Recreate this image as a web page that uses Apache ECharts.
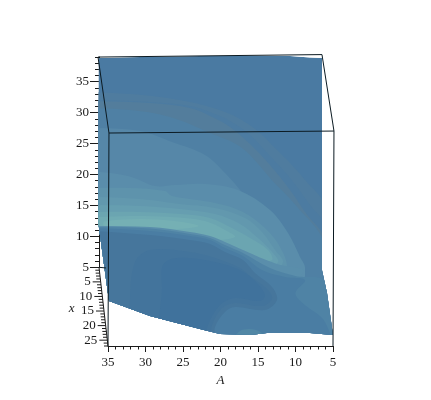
<!DOCTYPE html>
<html><head><meta charset="utf-8">
<style>html,body{margin:0;padding:0;background:#fff}#c{width:431px;height:400px}</style>
<script src="https://cdn.jsdelivr.net/npm/echarts@6/dist/echarts.min.js"></script>
</head><body><div id="c"></div>
<script>
// Axis ticks
const zMajor=[5,10,15,20,25,30,35];
const aMajor=[5,10,15,20,25,30,35];
const depthMajor=[5,10,15,20,25];
const depthAll=[1,2,3,4,5,6,7,8,9,10,11,12,13,14,15,16,17,18,19,20,21,22,23,24,25,26,27];
// Surface outline in (A, z)
const surface=[[36.27,38.83],[30.73,38.99],[22.73,39.15],[10.73,39.15],[8.07,38.91],[6.47,38.83],[6.47,4.56],[5.8,0.84],[5,-5.94],[8.07,-5.62],[13.8,-5.62],[16.07,-5.94],[20.07,-5.78],[22.73,-4.97],[29.4,-2.87],[34.87,-0.45],[36.27,12]];
// Contour regions in (A, z), back to front
const g1=[[42,33.5],[38,33.4],[32.07,33.01],[28.07,32.53],[24.07,31.72],[21.4,30.91],[18.73,29.78],[16.73,28.48],[14.73,26.71],[12.73,24.28],[10.73,21.86],[8.73,19.11],[6.07,14.75],[4,-12],[42,-12]];
const g2=[[42,32.2],[38,32.1],[29.4,31.72],[24.07,31.07],[21.4,30.1],[18.73,28.65],[16.07,26.38],[13.4,22.99],[10.73,19.43],[8.07,15.07],[6.07,11.68],[4,-12],[42,-12]];
const g3=[[42,32],[38,31.9],[29.4,31.55],[24.07,30.75],[21.4,29.46],[18.73,27.68],[16.07,24.93],[13.4,21.53],[10.73,17.49],[8.73,13.94],[6.07,9.41],[4,-12],[42,-12]];
const l5=[[42,30.9],[38,30.8],[32.07,30.42],[26.73,29.29],[21.4,26.71],[17.13,24.28],[12.93,18.79],[10,15.07],[6.07,8.6],[4,-12],[42,-12]];
const l6=[[42,27.7],[38,27.6],[30.73,27.03],[26.47,25.25],[22.07,23.15],[19.4,20.24],[17.4,17.49],[15,13.45],[12.73,9.41],[10.73,5.86],[9.4,2.95],[12,-2],[42,-2]];
const r0=[[42,20.8],[38,20.6],[32.33,19.76],[28.73,18.14],[26.07,18.3],[22.07,18.46],[17.67,17.49],[13.4,14.26],[11,10.54],[9.4,6.66],[8.73,4.89],[9.4,2.14],[42,2.14]];
const r1=[[42,17.9],[38,17.85],[32.07,17.82],[27.4,17.33],[26.47,16.52],[20.73,15.39],[17,13.94],[13.8,11.03],[12.07,8.28],[11.13,5.05],[12.07,2.14],[42,2.14]];
const r2=[[42,16.6],[38,16.45],[30.73,16.04],[25.4,15.23],[20.73,14.58],[16.73,12.97],[14.47,10.71],[12.73,7.8],[11.67,5.86],[13.4,3.76],[42,3.76]];
const r3=[[42,15.15],[38,15.1],[30.73,14.91],[25.4,14.42],[20.73,13.61],[17.4,12],[15,9.74],[13.13,7.47],[12.33,5.86],[14.47,4.24],[42,4.24]];
const r4=[[42,13.94],[38,13.94],[30.73,13.94],[25.4,13.61],[21.4,12.97],[18.47,11.35],[16.07,9.74],[13.67,7.8],[13.13,6.18],[15.4,5.86],[42,5.86]];
const r5=[[42,13],[38,13.05],[32.07,13.29],[26.73,13.13],[22.07,12.48],[19.4,11.03],[18.07,9.9],[21.4,9.41],[30,10.5],[42,10.71]];
const r6=[[35.5,12.4],[30.73,12.81],[26.07,12.48],[22.93,11.68],[26.07,11.19],[30.73,11.51],[35.5,11.68]];
const d1=[[42,11.72],[38,11.7],[29.4,11.51],[24.07,10.71],[21.4,10.06],[19.4,9.09],[17,7.8],[12.47,5.53],[9,4.56],[10,3.2],[42,1.33]];
const d2=[[42,11.55],[38,11.53],[29.4,11.27],[24.07,10.38],[21.4,9.74],[19.4,8.6],[17,7.31],[13.4,4.89],[10,3.59],[6.07,2.62],[4,-9],[42,-9]];
const d3=[[42,11.4],[38,11.37],[29.4,10.87],[24.07,10.06],[21.4,9.41],[19.4,8.12],[17,6.83],[14.47,4.56],[11.4,3.43],[8.73,2.95],[10,0.85],[9.07,-0.77],[6.07,-3.84],[5.5,-9],[42,-9]];
const d4=[[42,11],[38,10.95],[29.4,10.22],[24.07,9.41],[21.4,8.77],[19.4,7.47],[17,6.18],[15.4,4.08],[13.13,1.82],[12.47,-0.29],[14.07,-1.9],[18.07,-1.42],[19.4,-2.22],[20.73,-4.64],[21,-7.56],[42,-7.56]];
const d4a=[[32.07,-7.56],[32.07,-0.29],[31.4,5.86],[29.4,7.8],[24.07,7.47],[20.73,6.5],[17.4,4.89],[16.07,3.59],[13.67,1.33],[13.13,-0.12],[14.47,-1.25],[18.07,-0.77],[19.8,-1.58],[21.13,-4.33],[21.67,-7.56]];
const d5=[[27.8,-7.56],[27.8,1.65],[27.67,5.37],[25.8,6.5],[20.73,5.86],[17.4,4.56],[15.4,2.79],[14.07,0.52],[14.73,-0.45],[18.07,0.04],[20.07,-1.09],[21.67,-4.33],[22.33,-7.56]];
const bump=[[18.07,-6.43],[17.4,-5.3],[16.33,-4.97],[15.27,-5.13],[14.33,-5.78],[14.07,-6.75]];
const regions=[surface,g1,g2,g3,l5,l6,r0,r1,r2,r3,r4,r5,r6,d1,d2,d3,d4,d4a,d5,bump];
const regionColors=['#4a7aa2','#4f7c9f','#4c7ba1','#537d9c','#4f80a4','#5687a8','#5a8dab','#5e93ac','#6298ae','#669eb0','#6ba5b1','#70abb3','#75b0b4','#5a8eab','#4f83a5','#4a7da3','#46769c','#43749c','#40729c','#5187a5'];
// Box edges in (A, z)
const boxEdges=[
 [[36.33,38.99],[6.47,39.39]],
 [[6.47,39.39],[4.87,27.03]],
 [[36.33,38.99],[34.87,26.71]],
 [[34.87,26.71],[4.87,27.03]],
 [[34.87,26.71],[35,-7.72]],
 [[4.87,27.03],[5,-7.72]],
 [[36.2,5],[35.27,4.89]]
];
const serif='"Liberation Serif","Times New Roman",serif';
const ink='#1a1a1a';
const chart=echarts.init(document.getElementById('c'),null,{renderer:'canvas'});
const gridA={left:108,width:225,top:57,height:210.3};
const baseAxis={
  axisLine:{show:true,onZero:false,lineStyle:{color:ink,width:1}},
  splitLine:{show:false}
};
chart.setOption({
  animation:false,
  backgroundColor:'#fff',
  grid:[gridA,{left:99,width:9,top:267.3,height:78.7}],
  xAxis:[
   {...baseAxis,type:'value',gridIndex:0,min:5,max:35,interval:1,inverse:true,position:'bottom',offset:78.7,
    name:'A',nameLocation:'middle',nameGap:24,nameTextStyle:{fontFamily:serif,fontStyle:'italic',fontSize:13,color:ink},
    axisTick:{show:true,length:3.5,lineStyle:{color:ink}},
    axisLabel:{customValues:aMajor,fontFamily:serif,fontSize:13,color:ink,margin:10}},
   {type:'value',gridIndex:0,min:5,max:35,inverse:true,position:'bottom',offset:78.7,
    axisLine:{show:false},splitLine:{show:false},axisLabel:{show:false},
    axisTick:{show:true,customValues:aMajor,length:6,lineStyle:{color:ink}}},
   {type:'value',gridIndex:1,min:0,max:27,show:false}
  ],
  yAxis:[
   {...baseAxis,type:'value',gridIndex:0,min:5,max:39,interval:1,position:'left',offset:9,
    axisTick:{show:true,length:4,lineStyle:{color:ink}},
    axisLabel:{customValues:zMajor,fontFamily:serif,fontSize:13,color:ink,margin:10}},
   {type:'value',gridIndex:0,min:5,max:39,position:'left',offset:9,
    axisLine:{show:false},splitLine:{show:false},axisLabel:{show:false},
    axisTick:{show:true,customValues:zMajor,length:9,lineStyle:{color:ink}}},
   {type:'value',gridIndex:1,min:0,max:27,inverse:true,show:false}
  ],
  series:[
   {type:'custom',xAxisIndex:0,yAxisIndex:0,silent:true,z:2,
    data:regions.map((_,i)=>[i]),
    renderItem(p,api){
      const i=p.dataIndex;
      const clip=surface.map(q=>api.coord(q));
      return {type:'polygon',
        shape:{points:regions[i].map(q=>api.coord(q)),smooth:i===0?0:0.35},
        clipPath:{type:'polygon',shape:{points:clip}},
        style:{fill:regionColors[i],stroke:null}};
    }},
   {type:'custom',xAxisIndex:0,yAxisIndex:0,silent:true,z:3,
    data:boxEdges.map((_,i)=>[i]),
    renderItem(p,api){
      const e=boxEdges[p.dataIndex],a=api.coord(e[0]),b=api.coord(e[1]);
      return {type:'line',shape:{x1:a[0],y1:a[1],x2:b[0],y2:b[1]},style:{stroke:'#0b1a22',lineWidth:1,fill:null}};
    }},
   {type:'custom',xAxisIndex:2,yAxisIndex:2,silent:true,z:3,
    data:[[0]],
    renderItem(p,api){
      const a=api.coord([0,0]),b=api.coord([27,27]);
      return {type:'line',shape:{x1:a[0],y1:a[1],x2:b[0],y2:b[1]},style:{stroke:ink,lineWidth:1}};
    }},
   {type:'custom',xAxisIndex:2,yAxisIndex:2,silent:true,z:3,
    data:depthAll.map(d=>[d,d]),
    renderItem(p,api){
      const d=api.value(0),c=api.coord([d,d]),maj=depthMajor.includes(d),len=maj?8:4;
      const kids=[{type:'line',shape:{x1:c[0]-len,y1:c[1],x2:c[0],y2:c[1]},style:{stroke:ink,lineWidth:1}}];
      if(maj)kids.push({type:'text',style:{x:c[0]-10,y:c[1],text:String(d),align:'right',verticalAlign:'middle',fill:ink,font:'13px '+serif}});
      return {type:'group',children:kids};
    }},
   {type:'custom',xAxisIndex:2,yAxisIndex:2,silent:true,z:3,
    data:[[14,14]],
    renderItem(p,api){
      const c=api.coord([14,14]);
      return {type:'text',style:{x:c[0]-32,y:c[1],text:'x',align:'center',verticalAlign:'middle',fill:ink,font:'italic 13px '+serif}};
    }}
  ]
});
</script></body></html>
